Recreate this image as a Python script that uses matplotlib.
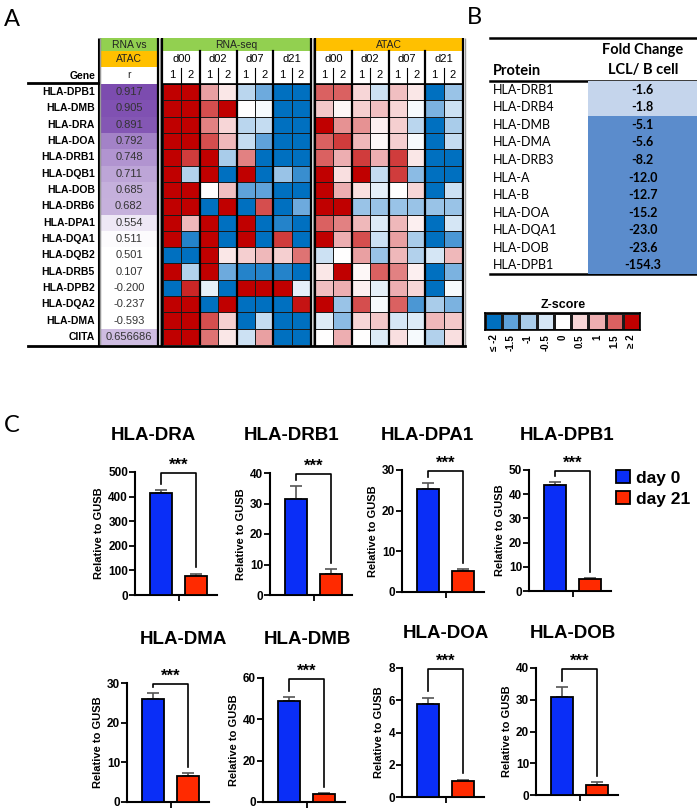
import numpy as np
import matplotlib
matplotlib.use("Agg")
import matplotlib.pyplot as plt
from matplotlib.colors import LinearSegmentedColormap, Normalize
from matplotlib.patches import Rectangle

plt.rcParams['font.family'] = ['Liberation Sans', 'DejaVu Sans']

# ---------------- data ----------------
genes = ["HLA-DPB1", "HLA-DMB", "HLA-DRA", "HLA-DOA", "HLA-DRB1", "HLA-DQB1", "HLA-DOB",
         "HLA-DRB6", "HLA-DPA1", "HLA-DQA1", "HLA-DQB2", "HLA-DRB5", "HLA-DPB2", "HLA-DQA2",
         "HLA-DMA", "CIITA"]
r_values = [0.917, 0.905, 0.891, 0.792, 0.748, 0.711, 0.685, 0.682, 0.554, 0.511, 0.501,
            0.107, -0.200, -0.237, -0.593, 0.656686]
r_labels = ["0.917", "0.905", "0.891", "0.792", "0.748", "0.711", "0.685", "0.682", "0.554",
            "0.511", "0.501", "0.107", "-0.200", "-0.237", "-0.593", "0.656686"]
days = ["d00", "d02", "d07", "d21"]
reps = ["1", "2"]
rna_z = [
    [2, 2, 1.1, 0.3, -0.8, -1.4, -2, -2],
    [2, 2, 1.6, 2, 0, -0.1, -2, -2],
    [2, 2, 1.3, 0.5, -0.8, -0.7, -2, -2],
    [2, 2, 1.6, 0.9, -0.7, -1.5, -2, -2],
    [2, 1.7, 2, -1, 1.3, -2, -2, -2],
    [2, -0.9, 2, -2, 2, -2, -1.1, -1.7],
    [2, 2, 0, 0.8, -1.5, -1.5, -2, -2],
    [2, 2, -2, 2, -2, 1.6, -2, -1.4],
    [2, 0.9, 2, -2, 2, -2, -1.8, -2],
    [2, -1.8, 2, -2, 2, -2, 1.7, -2],
    [-2, -2, 2, 0.3, 0.6, 0.9, 0.6, 1.4],
    [2, -0.9, 2, -1.4, -1.8, -1.8, -1.8, -2],
    [-2, 1.8, -0.3, -2, 2, 2, 2, -0.3],
    [2, 2, -2, 2, -2, -2, -2, 1.9],
    [2, 2, 1.6, 0.6, -2, -0.7, -2, -2],
    [2, 2, 1.4, 0.3, -0.6, 1.1, -2, -2],
]
atac_z = [
    [1.5, 1.5, 0.5, -0.6, 0.8, 0.3, -2, -1.1],
    [0.7, 0.1, 0.6, 0.8, 0.5, -0.1, -1.3, -0.6],
    [2, 1.2, 1.2, 0.2, 0.6, -0.8, -2, -1.0],
    [1.5, 1.7, 0.9, 0.1, 0.6, -0.1, -2, -0.7],
    [1.5, 1.0, 1.7, 1.0, 1.7, 0.3, -2, -2],
    [2, 0.4, 2, -0.7, 1.7, -1.2, -2, -2],
    [2, 1.0, 0.4, -0.3, 0, 0.5, -2, -0.6],
    [2, 2, -1.1, -1.1, -1.1, -1.1, -1.1, -1.1],
    [1.5, 1.3, 0.9, -0.4, 0.9, 0.2, -2, -0.5],
    [2, 1.0, 1.6, -0.6, 1.1, -1.0, -2, -1.6],
    [-0.6, 0, 1.1, -1.1, 0.9, -0.9, -0.5, 0.9],
    [0.3, 2, 0.1, 1.5, 1.3, 0.2, -2, -1.3],
    [0.8, 1.0, 0.2, -0.3, 1.0, 0.5, -2, -0.1],
    [2, -1.1, 1.6, -0.1, 1.5, -1.6, -1.0, -1.3],
    [-0.4, -1.2, 0.5, 0.7, -0.5, -0.4, 0.9, 0.7],
    [0, 1.0, 0, -0.4, 0.4, -0.1, -0.9, 0.4],
]
proteins = ["HLA-DRB1", "HLA-DRB4", "HLA-DMB", "HLA-DMA", "HLA-DRB3", "HLA-A", "HLA-B",
            "HLA-DOA", "HLA-DQA1", "HLA-DOB", "HLA-DPB1"]
fold_change = [-1.6, -1.8, -5.1, -5.6, -8.2, -12.0, -12.7, -15.2, -23.0, -23.6, -154.3]
z_levels = [-2, -1.5, -1, -0.5, 0, 0.5, 1, 1.5, 2]
z_tick_labels = ["\u2264 -2", "-1.5", "-1", "-0.5", "0", "0.5", "1", "1.5", "\u2265 2"]

qpcr_genes = ["HLA-DRA", "HLA-DRB1", "HLA-DPA1", "HLA-DPB1", "HLA-DMA", "HLA-DMB", "HLA-DOA", "HLA-DOB"]
series_labels = ["day 0", "day 21"]
day0 = [416, 31.5, 25.3, 43.7, 26.0, 49.0, 5.74, 30.8]
day0_err = [9, 4.2, 1.4, 1.2, 1.5, 1.9, 0.42, 3.1]
day21 = [78, 6.9, 5.1, 4.8, 6.6, 3.7, 1.0, 3.05]
day21_err = [9, 1.5, 0.5, 0.4, 0.8, 0.6, 0.06, 0.9]
y_max = [500, 40, 30, 50, 30, 60, 8, 40]
y_step = [100, 10, 10, 10, 10, 20, 2, 10]

# ---------------- figure ----------------
W, H = 697, 808
fig = plt.figure(figsize=(W / 100, H / 100), dpi=100)


def ax_px(x0, y0, x1, y1):
    return fig.add_axes([x0 / W, 1 - y1 / H, (x1 - x0) / W, (y1 - y0) / H])


z_colors = ['#0070C0', '#5FA2DA', '#A9CCEA', '#D5E6F5', '#FFFFFF',
            '#F7D7D8', '#EDB0B3', '#DB6464', '#C00000']
zcmap = LinearSegmentedColormap.from_list('z', z_colors)
znorm = Normalize(-2, 2)
rcmap = LinearSegmentedColormap.from_list('r', ['#FFFFFF', '#7B4BAF'])
rnorm = Normalize(0.5, 0.92, clip=True)

n = len(genes)
# r column
ax_r = ax_px(101, 84, 157, 345)
ax_r.pcolormesh(np.array(r_values)[:, None], cmap=rcmap, norm=rnorm)
ax_r.set_xlim(0, 1); ax_r.set_ylim(n, 0); ax_r.axis('off')
for i, lab in enumerate(r_labels):
    ax_r.text(0.5, i + 0.5, lab, ha='center', va='center', fontsize=8, color='#333333')

# heatmaps
blocks = [(163, 310, "RNA-seq", '#92D050', rna_z), (315, 462, "ATAC", '#FFC000', atac_z)]
for x0, x1, name, col, mat in blocks:
    ax = ax_px(x0, 84, x1, 345)
    ax.pcolormesh(np.array(mat), cmap=zcmap, norm=znorm, edgecolors='#1a1a1a', linewidth=0.7)
    ax.set_xlim(0, 8); ax.set_ylim(n, 0); ax.axis('off')
    for k in (2, 4, 6):
        ax.axvline(k, color='black', lw=1.6)

fg = ax_px(0, 0, W, H)
fg.set_xlim(0, W); fg.set_ylim(H, 0); fg.axis('off')
fg.patch.set_alpha(0)

# panel labels
fg.text(4, 20, "A", fontsize=17, family='Lato', va='center')
fg.text(467, 18, "B", fontsize=17, family='Lato', va='center')
fg.text(4, 425, "C", fontsize=17, family='Lato', va='center')

# headers for heatmap blocks
for x0, x1, name, col, mat in blocks:
    cw = (x1 - x0) / 8
    fg.add_patch(Rectangle((x0, 38), x1 - x0, 13, color=col, lw=0))
    fg.text((x0 + x1) / 2, 44.5, name, ha='center', va='center', fontsize=7.5, color='#222222')
    for k, d in enumerate(days):
        fg.text(x0 + (2 * k + 1) * cw, 59.5, d, ha='center', va='center', fontsize=8)
    for j in range(8):
        fg.text(x0 + (j + 0.5) * cw, 75, reps[j % 2], ha='center', va='center', fontsize=8)
    for k in (1, 2, 3):
        fg.plot([x0 + 2 * k * cw] * 2, [51, 84], color='black', lw=1.6)
    for k in range(4):
        fg.plot([x0 + (2 * k + 1) * cw] * 2, [68, 84], color='black', lw=0.8)
    fg.plot([x0, x1], [84, 84], color='black', lw=1.2)

# r header
fg.add_patch(Rectangle((101, 38), 56, 13, color='#92D050', lw=0))
fg.add_patch(Rectangle((101, 51), 56, 16, color='#FFC000', lw=0))
fg.text(129, 44.5, "RNA vs", ha='center', va='center', fontsize=7.5, color='#222222')
fg.text(129, 59, "ATAC", ha='center', va='center', fontsize=7.5, color='#222222')
fg.text(129, 75, "r", ha='center', va='center', fontsize=7.5, color='#222222')
fg.text(95, 76, "Gene", ha='right', va='center', fontsize=7.5, fontweight='bold')
for i, g in enumerate(genes):
    fg.text(95, 84 + (i + 0.5) * (261 / n), g, ha='right', va='center', fontsize=7.5, fontweight='bold')

# separators
for x, c, lw in [(98.5, 'black', 2.2), (100.3, '#999999', 1.0),
                 (157.6, 'black', 1.6), (159.8, '#999999', 1.0), (162, 'black', 1.6),
                 (310.7, 'black', 1.6), (312.8, '#999999', 1.0), (314.8, 'black', 1.6),
                 (462.6, 'black', 1.6), (464.6, '#999999', 1.0)]:
    fg.plot([x, x], [38, 346], color=c, lw=lw, solid_capstyle='butt')
fg.plot([28, 98], [83, 83], color='black', lw=2)
fg.plot([28, 465], [346, 346], color='black', lw=2)

# ---------------- panel B table ----------------
nt = len(proteins)
ax_t = ax_px(490, 81, 697, 274)
ax_t.set_xlim(0, 1); ax_t.set_ylim(nt, 0); ax_t.axis('off')
fc_colors = ['#C5D5EC' if v > -3 else '#5B8CCC' for v in fold_change]
ax_t.barh(np.arange(nt) + 0.5, 0.527, left=0.473, height=1.0, color=fc_colors, lw=0)
for i, (p, v) in enumerate(zip(proteins, fold_change)):
    ax_t.text(0.015, i + 0.5, p, ha='left', va='center', fontsize=9, family='Lato')
    ax_t.text(0.737, i + 0.5, f"{v:.1f}", ha='center', va='center', fontsize=9,
              family='Lato', fontweight='bold')
fg.plot([490, 697], [38, 38], color='black', lw=1.8)
fg.plot([490, 697], [81, 81], color='black', lw=1.8)
fg.plot([490, 697], [274, 274], color='black', lw=1.8)
fg.text(493, 71, "Protein", ha='left', va='center', fontsize=10.5, family='Lato', fontweight='bold')
fg.text(643, 50, "Fold Change", ha='center', va='center', fontsize=10.5, family='Lato', fontweight='bold')
fg.text(643, 70, "LCL/ B cell", ha='center', va='center', fontsize=10.5, family='Lato', fontweight='bold')

# ---------------- colorbar ----------------
ax_cb = ax_px(485, 313, 640, 330)
ax_cb.pcolormesh(np.array(z_levels)[None, :], cmap=zcmap, norm=znorm, edgecolors='#1a1a1a', linewidth=0.8)
ax_cb.set_xlim(0, len(z_levels)); ax_cb.set_ylim(0, 1)
ax_cb.set_yticks([])
ax_cb.set_xticks(np.arange(len(z_levels)) + 0.5)
ax_cb.set_xticklabels(z_tick_labels, rotation=90, fontsize=7, fontweight='bold')
ax_cb.tick_params(axis='x', length=0, pad=3)
for s in ax_cb.spines.values():
    s.set_linewidth(1.2)
fg.text(563, 305, "Z-score", ha='center', va='center', fontsize=9, fontweight='bold')

# ---------------- panel C bar charts ----------------
bar_axes_px = [(135, 472, 595), (270, 473, 595), (402, 470, 592), (529, 470, 591),
               (127, 683, 802), (263, 678, 802), (402, 668, 797), (536, 668, 795)]
title_px = [(153, 435), (292, 435), (427, 435), (567, 435),
            (183, 640), (307, 640), (446, 633), (573, 633)]
blue, red = '#0A2EF7', '#FF2A00'
handles = None
for i, g in enumerate(qpcr_genes):
    left, top, bottom = bar_axes_px[i]
    ax = ax_px(left, top, left + 82, bottom)
    b0 = ax.bar([0], [day0[i]], width=0.63, color=blue, edgecolor='black', lw=1.3, zorder=3)
    b1 = ax.bar([1], [day21[i]], width=0.63, color=red, edgecolor='black', lw=1.3, zorder=3)
    ax.errorbar([0], [day0[i]], yerr=[[0], [day0_err[i]]], fmt='none', ecolor='#555555',
                elinewidth=1.2, capsize=4.5, capthick=1.2, zorder=2)
    ax.errorbar([1], [day21[i]], yerr=[[0], [day21_err[i]]], fmt='none', ecolor='#555555',
                elinewidth=1.2, capsize=4.5, capthick=1.2, zorder=2)
    handles = (b0, b1)
    ax.set_xlim(-0.75, 1.6)
    ax.set_ylim(0, y_max[i])
    ax.set_yticks(np.arange(0, y_max[i] + 0.001, y_step[i]))
    ax.set_xticks([0.5]); ax.set_xticklabels([])
    ax.tick_params(axis='both', length=4, width=1.3, labelsize=8.5, pad=1)
    for lab in ax.get_yticklabels():
        lab.set_fontweight('bold')
    for s in ('top', 'right'):
        ax.spines[s].set_visible(False)
    for s in ('left', 'bottom'):
        ax.spines[s].set_linewidth(1.5)
    ax.set_ylabel("Relative to GUSB", fontsize=8, fontweight='bold', labelpad=3)
    # significance bracket
    yb = y_max[i] * 0.99
    ax.plot([0, 0, 1, 1],
            [day0[i] + day0_err[i] + 0.05 * y_max[i], yb, yb, day21[i] + day21_err[i] + 0.05 * y_max[i]],
            color='black', lw=1.2, clip_on=False)
    ax.text(0.5, yb + 0.003 * y_max[i], "***", ha='center', va='bottom', fontsize=12, fontweight='bold')
    fg.text(title_px[i][0], title_px[i][1], g, ha='center', va='center', fontsize=13.5, fontweight='bold')

fig.legend(handles, series_labels, loc='upper left', bbox_to_anchor=(616 / W, 1 - 470 / H),
           frameon=False, prop={'size': 12.5, 'weight': 'bold'}, handlelength=0.8, handleheight=0.8,
           handletextpad=0.35, labelspacing=0.3, borderpad=0, borderaxespad=0)

fig.savefig("out.png", dpi=100)
